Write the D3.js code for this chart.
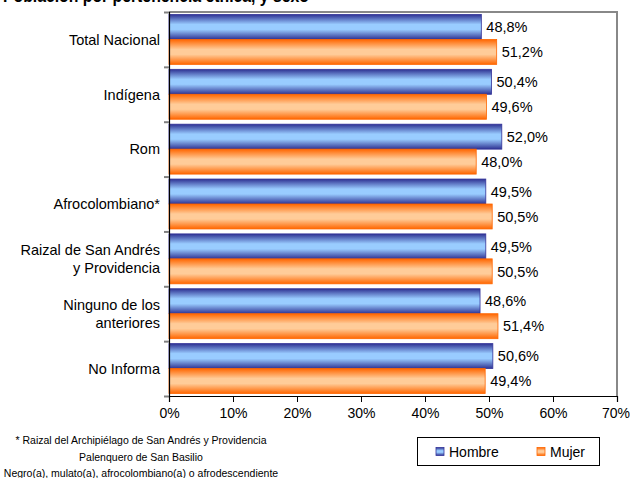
<!DOCTYPE html>
<html><head><meta charset="utf-8">
<script src="https://cdn.jsdelivr.net/npm/d3@7"></script>
<style>
html,body{margin:0;padding:0;background:#fff;}
svg{display:block;font-family:Arial,"Liberation Sans",sans-serif;}
</style></head>
<body>
<svg id="c" width="630" height="478"></svg>
<script>
const categories = [["Total Nacional"],["Indígena"],["Rom"],["Afrocolombiano*"],["Raizal de San Andrés","y Providencia"],["Ninguno de los","anteriores"],["No Informa"]];
const hombre = [48.8, 50.4, 52.0, 49.5, 49.5, 48.6, 50.6];
const mujer  = [51.2, 49.6, 48.0, 50.5, 50.5, 51.4, 49.4];
const seriesNames = ["Hombre","Mujer"];
const xTicks = [0,10,20,30,40,50,60,70];
const footnotes = ["* Raizal del Archipiélago de San Andrés y Providencia","Palenquero de San Basilio","Negro(a), mulato(a), afrocolombiano(a) o afrodescendiente"];
const titleText = "Población por pertenencia étnica, y sexo";

const svg = d3.select("#c");
const L = 169, R = 617, T = 12, B = 396;
const fmt = v => v.toFixed(1).replace(".", ",") + "%";

const defs = svg.append("defs");
function grad(id, dark, light){
  const g = defs.append("linearGradient").attr("id", id).attr("x1",0).attr("y1",0).attr("x2",0).attr("y2",1);
  g.append("stop").attr("offset","0%").attr("stop-color",dark);
  g.append("stop").attr("offset","40%").attr("stop-color",light);
  g.append("stop").attr("offset","60%").attr("stop-color",light);
  g.append("stop").attr("offset","100%").attr("stop-color",dark);
}
grad("gB", "#2e3192", "#99ccff");
grad("gO", "#ff6600", "#ffcc99");

// title (clipped at top, as in the reference)
svg.append("text").attr("x", 3).attr("y", 1.5).attr("font-weight","bold").attr("font-size", 18)
  .attr("textLength", 306).attr("lengthAdjust","spacingAndGlyphs").text(titleText);

const x = d3.scaleLinear().domain([0,70]).range([L, R]);
const y = d3.scaleBand().domain(d3.range(categories.length)).range([T, B]).paddingInner(0.09).paddingOuter(0.045);
const ys = d3.scaleBand().domain([0,1]).range([0, y.bandwidth()]);

// plot frame (top/right gray)
svg.append("path").attr("d", `M${L},${T}H${R}V${B}`).attr("fill","none").attr("stroke","#888").attr("stroke-width",2);

// bars
const data = categories.map((c,i)=>({i, vals:[hombre[i], mujer[i]]}));
const groups = svg.append("g").selectAll("g").data(data).join("g")
  .attr("transform", d => `translate(0,${y(d.i)})`);
groups.selectAll("rect").data(d => d.vals.map((v,k)=>({v,k}))).join("rect")
  .attr("x", L).attr("y", d => ys(d.k)).attr("width", d => x(d.v) - L).attr("height", ys.bandwidth())
  .attr("fill", d => d.k === 0 ? "url(#gB)" : "url(#gO)")
  .attr("stroke", d => d.k === 0 ? "#333399" : "#ff6600").attr("stroke-width", 0.8);
groups.selectAll("text").data(d => d.vals.map((v,k)=>({v,k}))).join("text")
  .attr("x", d => x(d.v) + 5).attr("y", d => ys(d.k) + ys.bandwidth()/2).attr("dy","0.36em")
  .attr("font-size", 14.5).attr("fill","#000").text(d => fmt(d.v));

// left axis
const yAxisScale = d3.scaleLinear().domain([0, categories.length]).range([T, B]);
const ya = svg.append("g").attr("transform", `translate(${L},0)`)
  .call(d3.axisLeft(yAxisScale).tickValues(d3.range(categories.length + 1)).tickSize(5).tickFormat(""));
ya.select(".domain").attr("stroke","#000").attr("stroke-width",1.2);
ya.selectAll(".tick line").attr("stroke","#808080").attr("stroke-width",2);

// category labels
svg.append("g").selectAll("text").data(data).join("text")
  .attr("text-anchor","end").attr("font-size", 14.5).attr("x", 160)
  .attr("y", d => y(d.i) + y.bandwidth()/2)
  .each(function(d){
    const lines = categories[d.i];
    const t = d3.select(this);
    lines.forEach((ln, j) => {
      t.append("tspan").attr("x", 160)
        .attr("dy", j === 0 ? (0.36 - (lines.length - 1) * 0.6) + "em" : "1.2em").text(ln);
    });
  });

// bottom axis
const xa = svg.append("g").attr("transform", `translate(0,${B})`)
  .call(d3.axisBottom(x).tickValues(xTicks).tickSize(6).tickPadding(6).tickFormat(d => d + "%"));
xa.select(".domain").attr("stroke","#000").attr("stroke-width",1.2);
xa.selectAll(".tick line").attr("stroke","#000");
xa.selectAll("text").attr("font-size", 14).attr("font-family","Arial, 'Liberation Sans', sans-serif").attr("fill","#000")
  .attr("dx", d => d === 70 ? -1.5 : 0);

// footnotes
svg.append("g").selectAll("text").data(footnotes).join("text")
  .attr("x", 141).attr("y", (d,i) => 444 + i*16.5).attr("text-anchor","middle")
  .attr("font-size", 10.5).text(d => d);

// legend
const lg = svg.append("g");
lg.append("rect").attr("x", 417.5).attr("y", 437.5).attr("width", 182).attr("height", 28)
  .attr("fill","#fff").attr("stroke","#000");
const lx = [436, 537];
seriesNames.forEach((n, k) => {
  lg.append("rect").attr("x", lx[k]).attr("y", 447.5).attr("width", 8).attr("height", 8)
    .attr("fill", k === 0 ? "url(#gB)" : "url(#gO)").attr("stroke", k === 0 ? "#333399" : "#ff6600").attr("stroke-width",0.8);
  lg.append("text").attr("x", lx[k] + 13).attr("y", 452).attr("dy","0.36em").attr("font-size", 14).text(n);
});
</script>
</body></html>
